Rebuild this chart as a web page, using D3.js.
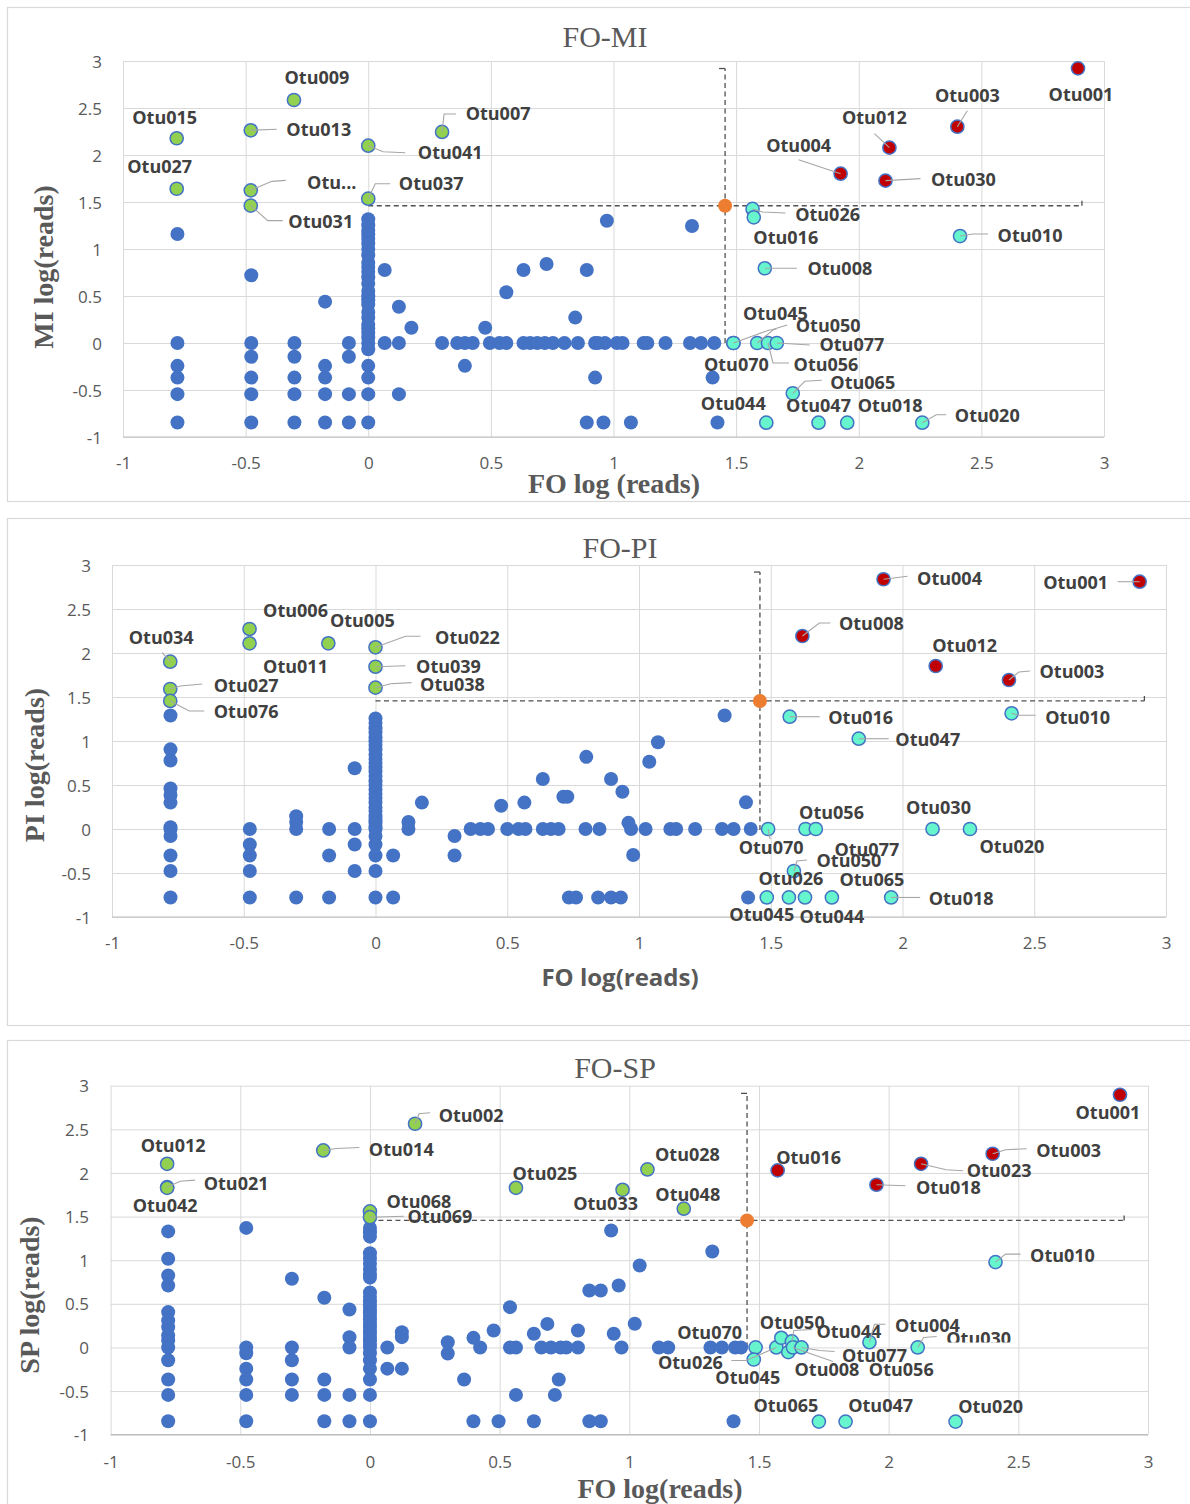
<!DOCTYPE html>
<html>
<head>
<meta charset="utf-8">
<script src="https://cdn.jsdelivr.net/npm/d3@7"></script>
<style>
  body { margin: 0; background: #fff; }
  svg { display: block; }
</style>
</head>
<body>
<svg id="chart" width="1190" height="1504"></svg>
<script>
// ---------- shared axis values ----------
const axisTicks = [-1, -0.5, 0, 0.5, 1, 1.5, 2, 2.5, 3];
const tickLabels = ["-1", "-0.5", "0", "0.5", "1", "1.5", "2", "2.5", "3"];

// ---------- FO vs MI ----------
const miBlue = [
  [-0.778,1.16],[-0.778,0],[-0.778,-0.243],[-0.778,-0.368],[-0.778,-0.544],[-0.778,-0.845],
  [-0.477,0.72],[-0.477,0],[-0.477,-0.146],[-0.477,-0.368],[-0.477,-0.544],[-0.477,-0.845],
  [-0.301,0],[-0.301,-0.146],[-0.301,-0.368],[-0.301,-0.544],[-0.301,-0.845],
  [-0.176,0.44],[-0.176,-0.243],[-0.176,-0.368],[-0.176,-0.544],[-0.176,-0.845],
  [-0.079,0],[-0.079,-0.146],[-0.079,-0.544],[-0.079,-0.845],
  [0,1.316],[0,1.252],[0,1.196],[0,1.155],[0,1.109],[0,1.058],[0,1.0],[0,0.933],[0,0.854],[0,0.808],
  [0,0.757],[0,0.699],[0,0.632],[0,0.553],[0,0.497],[0,0.456],[0,0.41],[0,0.331],[0,0.269],[0,0.196],
  [0,0.155],[0,0.109],[0,0.058],[0,0],[0,-0.067],[0,-0.243],[0,-0.368],[0,-0.544],[0,-0.845],
  [0.067,0.777],[0.067,0],[0.125,0.386],[0.125,0],[0.125,-0.544],[0.176,0.163],
  [0.301,0],[0.363,0],[0.394,0],[0.394,-0.243],[0.426,0],[0.477,0.163],[0.496,0],[0.535,0],
  [0.563,0.54],[0.563,0],[0.633,0.777],[0.633,0],[0.66,0],[0.689,0],[0.72,0],[0.753,0],[0.727,0.84],
  [0.80,0],[0.844,0.27],[0.855,0],[0.891,0.777],[0.891,-0.845],[0.925,-0.368],[0.925,0],
  [0.937,0],[0.965,0],[1.014,0],[1.037,0],[1.123,0],[1.138,0],[1.212,0],[1.312,0],[1.357,0],[1.411,0],
  [1.404,-0.368],[0.959,-0.845],[1.071,-0.845],[1.424,-0.845],[0.973,1.30],[1.32,1.245]
];
const miGreen = [
  ["Otu009",-0.303,2.585],["Otu015",-0.781,2.178],["Otu013",-0.479,2.263],["Otu041",0,2.099],
  ["Otu007",0.301,2.245],["Otu027",-0.781,1.641],["Otu...",-0.479,1.624],["Otu031",-0.479,1.461],
  ["Otu037",0,1.535]
];
const miRed = [
  ["Otu001",2.894,2.922],["Otu003",2.402,2.301],["Otu012",2.125,2.078],["Otu004",1.926,1.801],
  ["Otu030",2.109,1.727]
];
const miTeal = [
  ["Otu026",1.567,1.426],["Otu016",1.572,1.337],["Otu010",2.413,1.138],["Otu008",1.617,0.795],
  ["Otu045",1.489,0],["Otu070",1.489,0],["Otu050",1.586,0],["Otu056",1.630,0],["Otu077",1.666,0],
  ["Otu065",1.731,-0.535],["Otu044",1.623,-0.848],["Otu047",1.836,-0.848],["Otu018",1.953,-0.848],
  ["Otu020",2.259,-0.848]
];
const miMean = [1.455, 1.46];
const miSpread = [1.455, 1.46];

// ---------- FO vs PI ----------
const piBlue = [
  [-0.778,1.29],[-0.778,0.905],[-0.778,0.778],[-0.778,0.46],[-0.778,0.386],[-0.778,0.30],[-0.778,0.02],
  [-0.778,0],[-0.778,-0.079],[-0.778,-0.301],[-0.778,-0.477],[-0.778,-0.778],
  [-0.477,0],[-0.477,-0.176],[-0.477,-0.301],[-0.477,-0.477],[-0.477,-0.778],
  [-0.301,0.146],[-0.301,0.079],[-0.301,0],[-0.301,-0.778],
  [-0.176,0],[-0.176,-0.301],[-0.176,-0.778],
  [-0.079,0.69],[-0.079,0],[-0.079,-0.176],[-0.079,-0.477],
  [0,1.255],[0,1.204],[0,1.146],[0,1.097],[0,1.041],[0,0.996],[0,0.954],[0,0.903],[0,0.845],[0,0.795],
  [0,0.75],[0,0.699],[0,0.653],[0,0.602],[0,0.544],[0,0.5],[0,0.447],[0,0.398],[0,0.352],[0,0.301],
  [0,0.243],[0,0.204],[0,0.146],[0,0.1],[0,0.067],[0,0.02],[0,0],[0,-0.079],[0,-0.176],[0,-0.301],
  [0,-0.477],[0,-0.778],
  [0.067,-0.301],[0.067,-0.778],[0.125,0.079],[0.125,0],[0.176,0.30],
  [0.30,-0.079],[0.30,-0.301],[0.361,0],[0.398,0],[0.427,0],[0.477,0.265],[0.50,0],[0.543,0],[0.569,0],
  [0.565,0.30],[0.635,0.568],[0.635,0],[0.666,0],[0.695,0],[0.713,0.367],[0.728,0.367],[0.797,0],
  [0.734,-0.778],[0.761,-0.778],[0.80,0.82],[0.845,-0.778],[0.894,-0.778],[0.931,-0.778],
  [0.894,0.568],[0.937,0.424],[0.85,0],[0.96,0.07],[0.97,0],[0.978,-0.295],[1.025,0],
  [1.119,0],[1.141,0],[1.213,0],[1.315,0],[1.359,0],[1.424,0],[1.406,0.303],[1.414,-0.778],
  [1.072,0.985],[1.039,0.765],[1.325,1.29]
];
const piGreen = [
  ["Otu034",-0.779,1.901],["Otu027",-0.779,1.591],["Otu076",-0.779,1.455],["Otu006",-0.478,2.273],
  ["Otu011",-0.478,2.110],["Otu005",-0.179,2.110],["Otu022",0,2.065],["Otu039",0,1.844],
  ["Otu038",0,1.606]
];
const piRed = [
  ["Otu004",1.928,2.838],["Otu001",2.900,2.810],["Otu008",1.620,2.193],["Otu012",2.126,1.852],
  ["Otu003",2.404,1.693]
];
const piTeal = [
  ["Otu016",1.572,1.276],["Otu010",2.414,1.315],["Otu047",1.834,1.026],["Otu070",1.490,0],
  ["Otu056",1.632,0],["Otu077",1.671,0],["Otu030",2.114,0],["Otu020",2.256,0],["Otu050",1.588,-0.477],
  ["Otu045",1.485,-0.778],["Otu026",1.569,-0.778],["Otu044",1.630,-0.778],["Otu065",1.732,-0.778],
  ["Otu018",1.957,-0.778]
];
const piMean = [1.459, 1.455];
const piSpread = [1.459, 1.465];

// ---------- FO vs SP ----------
const spBlue = [
  [-0.778,1.33],[-0.778,1.017],[-0.778,0.825],[-0.778,0.71],[-0.778,0.405],[-0.778,0.31],[-0.778,0.233],
  [-0.778,0.137],[-0.778,0.08],[-0.778,0],[-0.778,-0.146],[-0.778,-0.368],[-0.778,-0.544],[-0.778,-0.845],
  [-0.477,1.37],[-0.477,0],[-0.477,-0.067],[-0.477,-0.243],[-0.477,-0.368],[-0.477,-0.544],[-0.477,-0.845],
  [-0.301,0.787],[-0.301,0],[-0.301,-0.146],[-0.301,-0.368],[-0.301,-0.544],
  [-0.176,0.57],[-0.176,-0.368],[-0.176,-0.544],[-0.176,-0.845],
  [-0.079,0.435],[-0.079,0.118],[-0.079,0],[-0.079,-0.544],[-0.079,-0.845],
  [0,1.37],[0,1.32],[0,1.27],[0,1.08],[0,1.02],[0,0.96],[0,0.9],[0,0.84],[0,0.8],[0,0.63],[0,0.58],
  [0,0.53],[0,0.48],[0,0.44],[0,0.4],[0,0.36],[0,0.32],[0,0.28],[0,0.24],[0,0.2],[0,0.16],[0,0.12],
  [0,0.08],[0,0.04],[0,0],[0,-0.067],[0,-0.146],[0,-0.243],[0,-0.368],[0,-0.544],[0,-0.845],
  [0.067,0],[0.067,-0.243],[0.123,0.175],[0.123,0.118],[0.123,-0.243],[0.30,0.06],[0.30,-0.07],
  [0.363,-0.368],[0.399,0.11],[0.399,-0.845],[0.425,0],[0.477,0.195],[0.496,-0.845],[0.54,0.462],[0.54,0],
  [0.563,0],[0.563,-0.544],[0.632,0.157],[0.632,-0.845],[0.661,0],[0.698,0],[0.735,0],[0.757,0],
  [0.684,0.27],[0.713,-0.544],[0.728,-0.368],[0.802,0.195],[0.802,0],[0.846,0.653],[0.846,-0.845],
  [0.89,0.653],[0.89,-0.845],[0.959,0.71],[1.04,0.94],[1.021,0.272],[0.94,0.157],[0.97,0],[1.114,0],
  [1.15,0],[1.313,0],[1.357,0],[1.408,0],[1.431,0],[1.402,-0.845],[0.93,1.34],[1.32,1.10]
];
const spGreen = [
  ["Otu012",-0.782,2.105],["Otu021",-0.782,1.837],["Otu042",-0.782,1.83],["Otu014",-0.180,2.258],
  ["Otu002",0.174,2.564],["Otu068",0,1.559],["Otu069",0,1.493],["Otu025",0.563,1.830],
  ["Otu033",0.974,1.807],["Otu028",1.070,2.040],["Otu048",1.210,1.590]
];
const spRed = [
  ["Otu001",2.892,2.896],["Otu003",2.401,2.220],["Otu023",2.125,2.105],["Otu016",1.572,2.029],
  ["Otu018",1.953,1.865]
];
const spTeal = [
  ["Otu010",2.412,0.978],["Otu070",1.487,0],["Otu045",1.480,-0.138],["Otu026",1.567,0],
  ["Otu050",1.586,0.111],["Otu056",1.613,-0.054],["Otu044",1.627,0.069],["Otu008",1.631,0],
  ["Otu077",1.664,0],["Otu004",1.926,0.060],["Otu030",2.112,0],["Otu065",1.731,-0.85],
  ["Otu047",1.834,-0.85],["Otu020",2.258,-0.85]
];
const spMean = [1.454, 1.456];
const spSpread = [1.454, 1.456];

// ---------- label placement (pixel offsets from each marker) ----------
const miLabelPos = {
  "Otu009":{dx:23,dy:-22}, "Otu015":{dx:-12,dy:-21},
  "Otu013":{dx:68,dy:-1,line:[[0,0],[26,-1]]},
  "Otu041":{dx:82,dy:7,line:[[0,0],[15,6],[37,7]]},
  "Otu007":{dx:56,dy:-18,line:[[0,0],[2,-18],[14,-18]]},
  "Otu027":{dx:-17,dy:-22},
  "Otu...":{dx:81,dy:-8,line:[[0,0],[21,-9],[35,-10]]},
  "Otu031":{dx:70,dy:16,line:[[0,0],[17,15],[32,15]]},
  "Otu037":{dx:63,dy:-15,line:[[0,0],[7,-15],[22,-15]]},
  "Otu001":{dx:3,dy:26},
  "Otu003":{dx:10,dy:-31,line:[[0,0],[10,-16]]},
  "Otu012":{dx:-15,dy:-30,line:[[0,0],[-15,-14]]},
  "Otu004":{dx:-42,dy:-28,line:[[0,0],[-42,-14]]},
  "Otu030":{dx:78,dy:-1,line:[[0,0],[35,-2]]},
  "Otu026":{dx:75,dy:6,line:[[0,0],[10,3],[33,4]]},
  "Otu016":{dx:32,dy:20},
  "Otu010":{dx:70,dy:-1,line:[[0,0],[13,-2],[28,-2]]},
  "Otu008":{dx:75,dy:0,line:[[0,0],[32,0]]},
  "Otu045":{dx:42,dy:-29,line:[[0,0],[36,-13],[43,-14]]},
  "Otu070":{dx:3,dy:22},
  "Otu050":{dx:71,dy:-17,line:[[0,0],[17,-14],[30,-18]]},
  "Otu056":{dx:58,dy:22,line:[[0,0],[5,20],[21,20]]},
  "Otu077":{dx:75,dy:2,line:[[0,0],[33,2]]},
  "Otu065":{dx:70,dy:-11,line:[[0,0],[12,-12],[29,-13]]},
  "Otu044":{dx:-33,dy:-19}, "Otu047":{dx:0,dy:-17}, "Otu018":{dx:43,dy:-17},
  "Otu020":{dx:65,dy:-7,line:[[0,0],[14,-8],[24,-8]]}
};
const piLabelPos = {
  "Otu034":{dx:-9,dy:-24,line:[[0,0],[-8,-9]]},
  "Otu027":{dx:76,dy:-3,line:[[0,0],[10,-3],[32,-5]]},
  "Otu076":{dx:76,dy:11,line:[[0,0],[19,10],[34,10]]},
  "Otu006":{dx:46,dy:-18}, "Otu011":{dx:46,dy:23}, "Otu005":{dx:34,dy:-23},
  "Otu022":{dx:92,dy:-10,line:[[0,0],[30,-11],[45,-11]]},
  "Otu039":{dx:73,dy:0,line:[[0,0],[30,-1]]},
  "Otu038":{dx:77,dy:-3,line:[[0,0],[15,-4],[36,-5]]},
  "Otu004":{dx:66,dy:-1,line:[[0,0],[24,-3]]},
  "Otu001":{dx:-64,dy:1,line:[[0,0],[-22,0]]},
  "Otu008":{dx:69,dy:-12,line:[[0,0],[17,-13],[28,-13]]},
  "Otu012":{dx:29,dy:-21},
  "Otu003":{dx:63,dy:-8,line:[[0,0],[10,-8],[21,-9]]},
  "Otu016":{dx:71,dy:1,line:[[0,0],[30,0]]},
  "Otu010":{dx:66,dy:4,line:[[0,0],[7,2],[24,2]]},
  "Otu047":{dx:69,dy:1,line:[[0,0],[30,0]]},
  "Otu070":{dx:3,dy:19,line:[[0,0],[2,10]]},
  "Otu056":{dx:26,dy:-16}, "Otu077":{dx:51,dy:21}, "Otu030":{dx:6,dy:-21}, "Otu020":{dx:42,dy:18},
  "Otu050":{dx:55,dy:-10,line:[[0,0],[3,-10],[13,-11]]},
  "Otu026":{dx:2,dy:-19}, "Otu065":{dx:40,dy:-18}, "Otu045":{dx:-5,dy:17}, "Otu044":{dx:27,dy:19},
  "Otu018":{dx:70,dy:1,line:[[0,0],[29,0]]}
};
const spLabelPos = {
  "Otu012":{dx:6,dy:-18},
  "Otu021":{dx:69,dy:-4,line:[[0,0],[13,-6],[28,-7]]},
  "Otu042":{dx:-2,dy:18},
  "Otu014":{dx:78,dy:-1,line:[[0,0],[13,-2],[36,-3]]},
  "Otu002":{dx:56,dy:-8,line:[[0,0],[4,-10],[15,-11]]},
  "Otu068":{dx:49,dy:-10},
  "Otu069":{dx:70,dy:-1,line:[[0,0],[34,-1]]},
  "Otu025":{dx:29,dy:-14}, "Otu033":{dx:-17,dy:14}, "Otu028":{dx:40,dy:-15}, "Otu048":{dx:4,dy:-14},
  "Otu001":{dx:-12,dy:18},
  "Otu003":{dx:76,dy:-3,line:[[0,0],[13,-4],[34,-5]]},
  "Otu023":{dx:78,dy:7,line:[[0,0],[25,6],[42,7]]},
  "Otu016":{dx:31,dy:-13},
  "Otu018":{dx:72,dy:3,line:[[0,0],[29,1]]},
  "Otu010":{dx:67,dy:-7,line:[[0,0],[10,-8],[25,-8]]},
  "Otu070":{dx:-46,dy:-15},
  "Otu045":{dx:-6,dy:18},
  "Otu026":{dx:-86,dy:15,line:[[0,0],[-30,13],[-45,13]]},
  "Otu050":{dx:11,dy:-15},
  "Otu056":{dx:113,dy:17},
  "Otu044":{dx:57,dy:-10,line:[[0,0],[2,-11],[20,-12]]},
  "Otu008":{dx:34,dy:22,line:[[0,0],[40,14]]},
  "Otu077":{dx:73,dy:8,line:[[0,0],[18,3],[33,4]]},
  "Otu004":{dx:58,dy:-17,line:[[0,0],[5,-18],[16,-18]]},
  "Otu030":{dx:61,dy:-9,line:[[0,0],[6,-10],[19,-11]],cut:4},
  "Otu065":{dx:-33,dy:-16}, "Otu047":{dx:35,dy:-16}, "Otu020":{dx:35,dy:-15}
};

// ---------- panel frames ----------
const panels = [
  { blue: miBlue, green: miGreen, red: miRed, teal: miTeal, mean: miMean, spread: miSpread,
    labels: miLabelPos, title: "FO-MI", xTitle: "FO log (reads)", yTitle: "MI log(reads)",
    box: {x: 7.5, y: 7.5, w: 1190, h: 494},
    plot: {l: 123, r: 1104, t: 61, b: 437},
    titlePos: [605, 47], xTitlePos: [614, 493], xTitleSerif: true, yTitlePos: [53, 267],
    xTickBase: 469, yTickRight: 102 },
  { blue: piBlue, green: piGreen, red: piRed, teal: piTeal, mean: piMean, spread: piSpread,
    labels: piLabelPos, title: "FO-PI", xTitle: "FO log(reads)", yTitle: "PI log(reads)",
    box: {x: 7.5, y: 518.5, w: 1190, h: 507},
    plot: {l: 112, r: 1166, t: 565, b: 917},
    titlePos: [620, 558], xTitlePos: [620, 986], xTitleSerif: false, yTitlePos: [44, 765],
    xTickBase: 949, yTickRight: 91 },
  { blue: spBlue, green: spGreen, red: spRed, teal: spTeal, mean: spMean, spread: spSpread,
    labels: spLabelPos, title: "FO-SP", xTitle: "FO log(reads)", yTitle: "SP log(reads)",
    box: {x: 7.5, y: 1040.5, w: 1190, h: 500},
    plot: {l: 110.6, r: 1148, t: 1085.7, b: 1434.7},
    titlePos: [615, 1078], xTitlePos: [660, 1498], xTitleSerif: true, yTitlePos: [39, 1295],
    xTickBase: 1468, yTickRight: 89 }
];

const COLORS = { blue: "#4472C4", green: "#92D050", red: "#C00000", teal: "#66F5CC", mean: "#ED7D31" };
const TEXT_GRAY = "#595959";
const LABEL_INK = "#404040";
const SANS = "'Open Sans', 'Liberation Sans', sans-serif";
const SERIF = "'Liberation Serif', 'DejaVu Serif', serif";

const svg = d3.select("#chart");
const defs = svg.append("defs");
let clipCount = 0;

function drawPanel(p) {
  const g = svg.append("g");
  const x = d3.scaleLinear().domain([-1, 3]).range([p.plot.l, p.plot.r]);
  const y = d3.scaleLinear().domain([-1, 3]).range([p.plot.b, p.plot.t]);

  // outer frame
  g.append("rect")
    .attr("x", p.box.x).attr("y", p.box.y).attr("width", p.box.w).attr("height", p.box.h)
    .attr("fill", "none").attr("stroke", "#D9D9D9").attr("stroke-width", 1.2);

  // gridlines + tick labels
  const xAxis = g.append("g")
    .attr("transform", `translate(0,${p.plot.b})`)
    .call(d3.axisBottom(x).tickValues(axisTicks).tickSize(-(p.plot.b - p.plot.t))
      .tickFormat((d, i) => tickLabels[i]));
  const yAxis = g.append("g")
    .attr("transform", `translate(${p.plot.l},0)`)
    .call(d3.axisLeft(y).tickValues(axisTicks).tickSize(-(p.plot.r - p.plot.l))
      .tickFormat((d, i) => tickLabels[i]));
  [xAxis, yAxis].forEach(a => {
    a.select(".domain").remove();
    a.selectAll(".tick line").attr("stroke", "#D9D9D9").attr("stroke-width", 1);
    a.selectAll(".tick text")
      .attr("fill", TEXT_GRAY).style("font-family", SANS).style("font-size", "17px");
  });
  xAxis.selectAll(".tick text").attr("y", p.xTickBase - p.plot.b).attr("dy", null);
  yAxis.selectAll(".tick text").attr("x", -(p.plot.l - p.yTickRight)).attr("dy", "0.36em")
    .attr("text-anchor", "end");

  // baseline of the value axis
  g.append("line")
    .attr("x1", p.plot.l).attr("x2", p.plot.r).attr("y1", y(-1)).attr("y2", y(-1))
    .attr("stroke", "#BFBFBF").attr("stroke-width", 1.2);

  // dashed range lines around the mean
  const [mx, my] = p.mean, [sx, sy] = p.spread;
  const dash = g.append("g").attr("stroke", "#505050").attr("stroke-width", 1.3)
    .attr("stroke-dasharray", "5,3.5").attr("fill", "none");
  dash.append("line").attr("x1", x(mx - sx)).attr("x2", x(mx + sx)).attr("y1", y(my)).attr("y2", y(my));
  dash.append("line").attr("x1", x(mx)).attr("x2", x(mx)).attr("y1", y(my - sy)).attr("y2", y(my + sy));
  const caps = g.append("g").attr("stroke", "#505050").attr("stroke-width", 1.3);
  caps.append("line").attr("x1", x(mx) - 6).attr("x2", x(mx)).attr("y1", y(my + sy)).attr("y2", y(my + sy));
  caps.append("line").attr("x1", x(mx + sx)).attr("x2", x(mx + sx)).attr("y1", y(my) - 5).attr("y2", y(my));

  // unlabelled OTUs
  g.append("g").selectAll("circle").data(p.blue).join("circle")
    .attr("cx", d => x(d[0])).attr("cy", d => y(d[1])).attr("r", 7)
    .attr("fill", COLORS.blue);

  // highlighted OTU groups
  const groups = [["teal", p.teal], ["green", p.green], ["red", p.red]];
  groups.forEach(([key, rows]) => {
    g.append("g").selectAll("circle").data(rows).join("circle")
      .attr("cx", d => x(d[1])).attr("cy", d => y(d[2])).attr("r", 6.6)
      .attr("fill", COLORS[key]).attr("stroke", COLORS.blue).attr("stroke-width", 1.5);
  });

  // mean marker
  g.append("circle").attr("cx", x(mx)).attr("cy", y(my)).attr("r", 7).attr("fill", COLORS.mean);

  // leader lines and labels
  const named = [].concat(p.green, p.red, p.teal);
  const lineGen = d3.line();
  const lab = g.append("g");
  named.forEach(d => {
    const pos = p.labels[d[0]];
    if (!pos) return;
    const px = x(d[1]), py = y(d[2]);
    if (pos.line) {
      lab.append("path")
        .attr("d", lineGen(pos.line.map(v => [px + v[0], py + v[1]])))
        .attr("fill", "none").attr("stroke", "#A6A6A6").attr("stroke-width", 1.1);
    }
    const t = lab.append("text")
      .attr("x", px + pos.dx).attr("y", py + pos.dy).attr("dy", "0.36em")
      .attr("text-anchor", "middle")
      .attr("fill", LABEL_INK).style("font-family", SANS).style("font-size", "18px")
      .style("font-weight", 700)
      .text(d[0]);
    if (pos.cut !== undefined) {
      const id = "labelcut" + (clipCount++);
      defs.append("clipPath").attr("id", id).append("rect")
        .attr("x", 0).attr("y", 0).attr("width", 1190).attr("height", py + pos.dy + pos.cut);
      t.attr("clip-path", `url(#${id})`);
    }
  });

  // titles
  g.append("text")
    .attr("x", p.titlePos[0]).attr("y", p.titlePos[1]).attr("text-anchor", "middle")
    .attr("fill", TEXT_GRAY).style("font-family", SERIF).style("font-size", "30px")
    .text(p.title);
  g.append("text")
    .attr("x", p.xTitlePos[0]).attr("y", p.xTitlePos[1]).attr("text-anchor", "middle")
    .attr("fill", TEXT_GRAY)
    .style("font-family", p.xTitleSerif ? SERIF : SANS)
    .style("font-size", p.xTitleSerif ? "28px" : "24px")
    .style("font-weight", 700)
    .text(p.xTitle);
  g.append("text")
    .attr("transform", `translate(${p.yTitlePos[0]},${p.yTitlePos[1]}) rotate(-90)`)
    .attr("text-anchor", "middle")
    .attr("fill", TEXT_GRAY).style("font-family", SERIF).style("font-size", "28px")
    .style("font-weight", 700)
    .text(p.yTitle);
}

panels.forEach(drawPanel);
</script>
</body>
</html>
